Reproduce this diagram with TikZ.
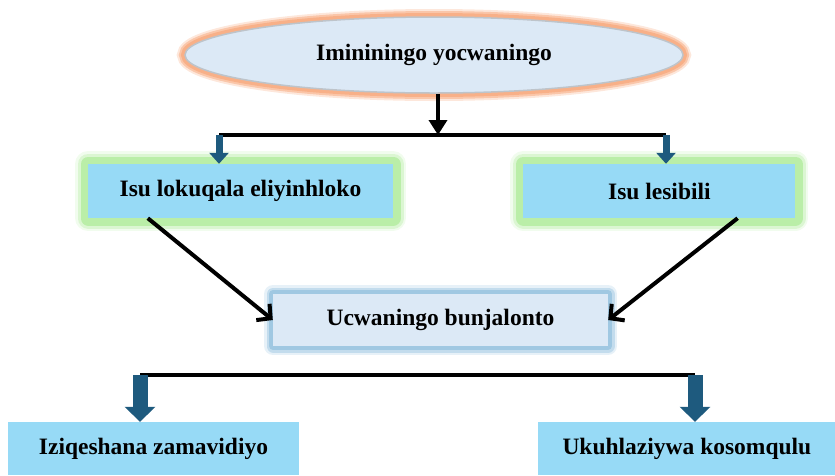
\documentclass[tikz,border=0pt]{standalone}
\usepackage{fontspec}
\setmainfont{Liberation Serif}
\usetikzlibrary{positioning,arrows.meta,shapes.geometric}

\definecolor{skyfill}{RGB}{151,218,246}
\definecolor{palefill}{RGB}{220,233,246}
\definecolor{ellgray}{RGB}{190,196,202}
\definecolor{glowor}{RGB}{248,176,136}
\definecolor{glowgr}{RGB}{186,238,168}
\definecolor{glowbl}{RGB}{160,200,226}
\definecolor{arrblue}{RGB}{30,90,126}

\tikzset{
    glow/.style={
        preaction={draw=#1, draw opacity=0.2, line width=26pt, line join=round},
        preaction={draw=#1, draw opacity=0.4, line width=21pt, line join=round},
        preaction={draw=#1, line width=15pt, line join=round}},
    softglow/.style={
        preaction={draw=#1, draw opacity=0.25, line width=18pt, line join=round},
        preaction={draw=#1, draw opacity=0.5, line width=13pt, line join=round},
        preaction={draw=#1, line width=8pt, line join=round}},
    label font/.style={font=\bfseries\fontsize{23.5}{26}\selectfont},
    topnode/.style={ellipse, label font, fill=palefill, draw=ellgray, line width=1.5pt,
        minimum width=498pt, minimum height=76pt, inner sep=0pt,
        preaction={draw=glowor, draw opacity=0.3, line width=16pt},
        preaction={draw=glowor, draw opacity=0.6, line width=12pt},
        preaction={draw=glowor, line width=8pt}},
    greenbox/.style={rectangle, label font, fill=skyfill, glow=glowgr,
        minimum height=54pt, inner sep=0pt},
    midbox/.style={rectangle, label font, fill=palefill, softglow=glowbl,
        minimum width=335pt, minimum height=52pt, inner sep=0pt},
    endbox/.style={rectangle, label font, fill=skyfill,
        minimum height=53pt, inner sep=0pt},
    joinline/.style={draw=black, line width=4pt},
    downarrow/.style={draw=black, line width=3.5pt, -{Triangle[length=15pt, width=18pt]}},
    barbarrow/.style={draw=black, line width=4pt, -{Straight Barb[length=10pt, width=21pt]}},
    smallblue/.style={draw=arrblue, line width=7pt, -{Triangle[length=11pt, width=19pt]}},
    bigblue/.style={draw=arrblue, line width=15pt, -{Triangle[length=15pt, width=30pt]}},
}

\begin{document}
\begin{tikzpicture}[x=1pt, y=-1pt]
    \useasboundingbox (0,0) rectangle (835,475);

    \node [topnode] (info) at (434,55) {Imininingo yocwaningo};

    \node [greenbox, minimum width=305pt] (first) at (240.5,191) {Isu lokuqala eliyinhloko};
    \node [greenbox, minimum width=272pt, right=130pt of first] (second) {Isu lesibili};

    \node [midbox] (research) at (440.5,320) {Ucwaningo bunjalonto};

    \node [endbox, minimum width=291pt] (clips) at (153.5,448.5) {Iziqeshana zamavidiyo};
    \node [endbox, minimum width=297pt, right=239pt of clips] (analysis) {Ukuhlaziywa kosomqulu};

    % top split
    \coordinate (split) at (438,135);
    \coordinate (splitl) at (219,135);
    \coordinate (splitr) at (666,135);
    \draw [downarrow] (info.south -| split) -- (split);
    \draw [joinline] (splitl) -- (splitr);
    \draw [smallblue] (splitl) -- (splitl |- first.north);
    \draw [smallblue] (splitr) -- (splitr |- second.north);

    % both strategies lead into the middle box
    \draw [barbarrow] ([xshift=60pt]first.south west) -- (research.west);
    \draw [barbarrow] ([xshift=-58pt]second.south east) -- (research.east);

    % bottom split
    \coordinate (lowl) at (140,375);
    \coordinate (lowr) at (695,375);
    \draw [joinline, line width=4.5pt] (lowl) -- (lowr);
    \draw [bigblue] (lowl) -- (lowl |- clips.north);
    \draw [bigblue] (lowr) -- (lowr |- analysis.north);
\end{tikzpicture}
\end{document}
